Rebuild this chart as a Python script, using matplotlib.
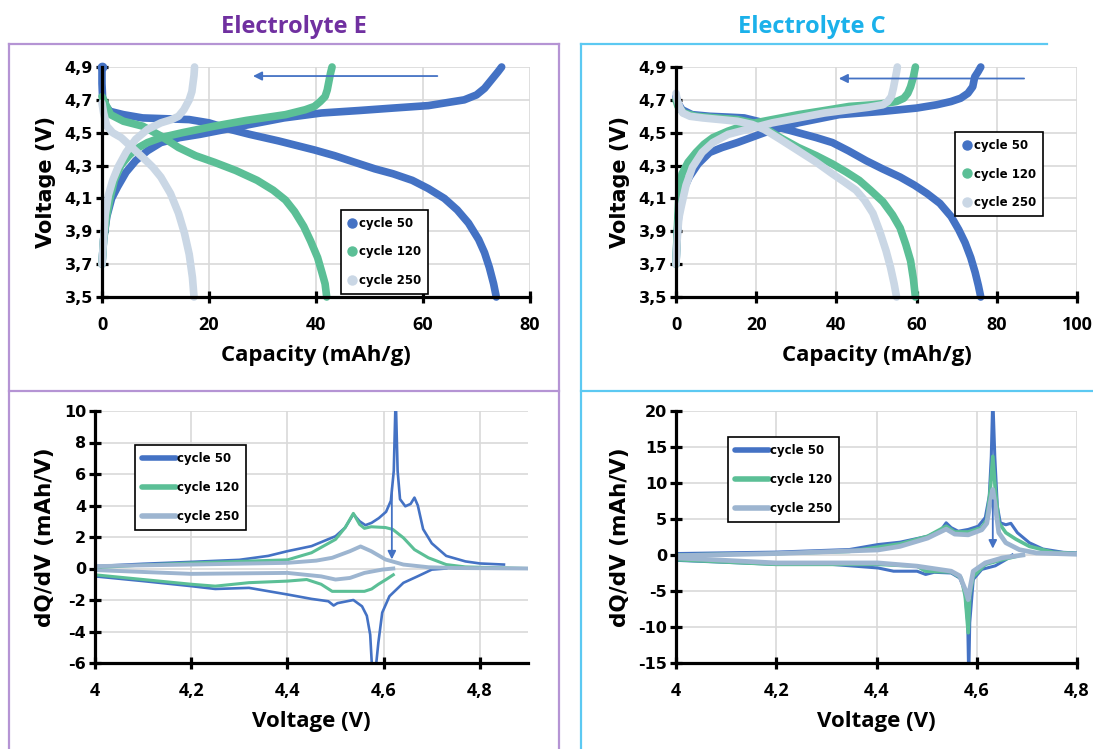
import matplotlib
matplotlib.use('Agg')
import matplotlib.pyplot as plt
from matplotlib.lines import Line2D

# ---- voltage profiles, Electrolyte E (capacity in mAh/g, voltage in V)
E50_CH_CAP = [0.0, 0.3, 0.9, 1.8, 2.9, 4.5, 6.3, 8.5, 11.0, 14.5, 18.3, 23.0, 27.6, 34.0, 41.0,
              48.0, 54.4, 61.0, 67.7, 70.0, 71.5, 73.0, 74.0, 74.7]
E50_CH_V = [3.70, 3.85, 3.99, 4.10, 4.17, 4.26, 4.33, 4.39, 4.44, 4.47, 4.49, 4.52, 4.55, 4.59, 4.62,
            4.635, 4.65, 4.665, 4.70, 4.73, 4.77, 4.83, 4.87, 4.90]
E50_DC_CAP = [0.0, 0.0, 0.1, 0.3, 1.5, 4.0, 7.6, 12.0, 16.3, 20.0, 24.0, 27.6, 33.0, 39.7, 43.5,
              47.7, 51.0, 54.4, 58.0, 61.0, 64.0, 66.4, 68.5, 70.4, 71.5, 72.4, 73.2, 73.7]
E50_DC_V = [4.90, 4.80, 4.72, 4.68, 4.63, 4.61, 4.59, 4.585, 4.58, 4.56, 4.52, 4.49, 4.45, 4.395, 4.36,
            4.315, 4.28, 4.25, 4.21, 4.16, 4.10, 4.03, 3.95, 3.85, 3.77, 3.68, 3.58, 3.50]

E120_CH_CAP = [0.0, 0.3, 0.8, 1.5, 2.3, 3.5, 5.0, 6.3, 8.5, 11.0, 15.0, 21.0, 27.0, 34.3, 38.0, 39.7,
               40.8, 41.7, 42.1, 42.4, 42.7, 43.0]
E120_CH_V = [3.70, 3.85, 3.98, 4.10, 4.21, 4.30, 4.36, 4.40, 4.44, 4.47, 4.50, 4.54, 4.575, 4.61, 4.64,
             4.66, 4.69, 4.72, 4.76, 4.81, 4.86, 4.90]
E120_DC_CAP = [0.0, 0.3, 1.6, 4.0, 7.6, 11.0, 14.3, 17.5, 21.0, 25.0, 29.0, 32.0, 34.3, 36.0, 37.7,
               39.0, 40.3, 41.1, 41.7, 42.0]
E120_DC_V = [4.72, 4.70, 4.61, 4.57, 4.54, 4.48, 4.41, 4.36, 4.32, 4.27, 4.21, 4.15, 4.09, 4.02, 3.93,
             3.84, 3.74, 3.65, 3.58, 3.50]

E250_CH_CAP = [0.0, 0.2, 0.6, 1.2, 2.0, 3.0, 4.5, 6.3, 8.5, 11.0, 13.0, 14.3, 15.3, 16.3, 16.8, 17.0,
               17.2, 17.3]
E250_CH_V = [3.70, 3.80, 4.00, 4.12, 4.21, 4.29, 4.38, 4.46, 4.52, 4.56, 4.58, 4.60, 4.64, 4.70, 4.75,
             4.80, 4.85, 4.90]
E250_DC_CAP = [0.0, 0.3, 0.9, 2.0, 3.6, 5.6, 7.6, 9.5, 11.0, 12.8, 14.3, 15.4, 16.3, 16.9, 17.2]
E250_DC_V = [4.68, 4.62, 4.54, 4.50, 4.47, 4.41, 4.35, 4.29, 4.23, 4.13, 4.01, 3.89, 3.76, 3.62, 3.50]

# ---- voltage profiles, Electrolyte C
C50_CH_CAP = [0.0, 0.3, 0.8, 1.8, 3.3, 5.5, 8.4, 11.5, 15.3, 22.0, 30.5, 40.7, 51.6, 60.0, 65.0, 68.6,
              71.0, 72.8, 74.0, 74.5, 75.3, 76.0]
C50_CH_V = [3.70, 3.88, 4.05, 4.15, 4.23, 4.31, 4.38, 4.41, 4.44, 4.50, 4.56, 4.61, 4.63, 4.65, 4.67,
            4.69, 4.71, 4.74, 4.78, 4.84, 4.87, 4.90]
C50_DC_CAP = [0.0, 0.5, 1.5, 4.0, 8.4, 13.0, 17.0, 22.0, 26.0, 30.5, 35.0, 39.0, 43.0, 47.4, 51.5,
              55.9, 59.5, 62.6, 65.8, 68.6, 70.5, 72.1, 73.5, 74.6, 75.4, 76.0]
C50_DC_V = [4.72, 4.68, 4.64, 4.61, 4.60, 4.595, 4.59, 4.56, 4.53, 4.50, 4.47, 4.44, 4.39, 4.33, 4.28,
            4.23, 4.18, 4.13, 4.07, 3.99, 3.91, 3.83, 3.74, 3.65, 3.57, 3.50]

C120_CH_CAP = [0.0, 0.3, 0.7, 1.5, 3.0, 5.0, 7.0, 9.2, 13.0, 17.7, 24.0, 30.5, 37.0, 43.2, 49.0, 52.6,
               55.0, 56.8, 57.8, 58.5, 59.2, 59.7]
C120_CH_V = [3.70, 3.90, 4.10, 4.25, 4.32, 4.38, 4.43, 4.47, 4.51, 4.55, 4.58, 4.61, 4.635, 4.66, 4.67,
             4.68, 4.69, 4.71, 4.74, 4.78, 4.84, 4.90]
C120_DC_CAP = [0.0, 0.5, 2.0, 5.0, 10.0, 15.3, 19.0, 22.0, 26.0, 30.5, 35.0, 39.0, 42.5, 45.7, 48.5,
               51.6, 54.0, 55.9, 57.3, 58.5, 59.2, 59.7]
C120_DC_V = [4.70, 4.66, 4.62, 4.60, 4.59, 4.58, 4.56, 4.53, 4.47, 4.41, 4.36, 4.31, 4.26, 4.21, 4.15,
             4.08, 4.00, 3.92, 3.82, 3.72, 3.61, 3.50]

C250_CH_CAP = [0.0, 0.3, 0.7, 1.3, 2.5, 4.1, 6.5, 9.2, 13.0, 17.7, 24.0, 30.5, 37.0, 43.2, 48.0, 51.6,
               52.8, 53.7, 54.2, 54.6, 55.0, 55.2]
C250_CH_V = [3.70, 3.85, 3.98, 4.05, 4.18, 4.29, 4.38, 4.44, 4.49, 4.52, 4.56, 4.59, 4.62, 4.64, 4.655,
             4.67, 4.69, 4.72, 4.77, 4.82, 4.87, 4.90]
C250_DC_CAP = [0.0, 0.3, 1.0, 1.7, 3.5, 6.7, 11.0, 15.3, 19.0, 22.0, 26.0, 30.5, 35.0, 39.0, 42.0,
               44.9, 47.0, 49.1, 50.8, 52.4, 53.5, 54.4, 55.0]
C250_DC_V = [4.74, 4.70, 4.65, 4.62, 4.60, 4.59, 4.58, 4.57, 4.55, 4.52, 4.46, 4.39, 4.32, 4.25, 4.20,
             4.15, 4.09, 4.01, 3.90, 3.78, 3.68, 3.58, 3.50]

# ---- dQ/dV, Electrolyte E (voltage in V, dQ/dV in mAh/V)
DE50_CH_V = [4.00, 4.10, 4.20, 4.30, 4.36, 4.40, 4.45, 4.50, 4.52, 4.537, 4.55, 4.562, 4.575, 4.59,
             4.605, 4.615, 4.621, 4.625, 4.629, 4.634, 4.645, 4.656, 4.664, 4.671, 4.682, 4.70, 4.73,
             4.77, 4.80, 4.85]
DE50_CH_Q = [0.15, 0.30, 0.42, 0.55, 0.80, 1.10, 1.42, 2.05, 2.60, 3.45, 3.00, 2.75, 2.90, 3.20,
             3.60, 4.30, 6.20, 11.0, 6.20, 4.40, 3.95, 4.10, 4.50, 4.00, 2.50, 1.60, 0.80,
             0.45, 0.32, 0.25]
DE50_DC_V = [4.00, 4.10, 4.20, 4.25, 4.32, 4.40, 4.45, 4.485, 4.496, 4.504, 4.537, 4.555, 4.565,
             4.572, 4.578, 4.583, 4.589, 4.597, 4.612, 4.641, 4.671, 4.70, 4.73]
DE50_DC_Q = [-0.50, -0.80, -1.12, -1.30, -1.23, -1.65, -1.93, -2.08, -2.35, -2.20, -2.00, -2.40, -3.00,
             -4.20, -7.50, -6.50, -4.70, -2.80, -1.76, -0.91, -0.49, -0.07, 0.0]

DE120_CH_V = [4.00, 4.10, 4.20, 4.30, 4.40, 4.45, 4.50, 4.52, 4.537, 4.55, 4.56, 4.574, 4.604, 4.619,
              4.641, 4.664, 4.693, 4.73, 4.77, 4.90]
DE120_CH_Q = [0.05, 0.22, 0.35, 0.45, 0.55, 1.00, 1.85, 2.60, 3.50, 2.80, 2.55, 2.65, 2.60, 2.48,
              1.95, 1.20, 0.68, 0.25, 0.10, 0.0]
DE120_DC_V = [4.00, 4.10, 4.20, 4.25, 4.32, 4.40, 4.44, 4.47, 4.493, 4.52, 4.56, 4.575, 4.589, 4.605, 4.62]
DE120_DC_Q = [-0.40, -0.70, -1.00, -1.12, -0.90, -0.80, -0.70, -1.00, -1.45, -1.45, -1.45, -1.30, -1.00,
              -0.70, -0.40]

DE250_CH_V = [4.00, 4.20, 4.40, 4.46, 4.493, 4.53, 4.552, 4.574, 4.604, 4.641, 4.693, 4.75, 4.90]
DE250_CH_Q = [0.15, 0.25, 0.36, 0.50, 0.68, 1.10, 1.40, 1.10, 0.57, 0.25, 0.08, 0.03, 0.0]
DE250_DC_V = [4.00, 4.20, 4.40, 4.47, 4.50, 4.53, 4.56, 4.597, 4.62]
DE250_DC_Q = [-0.10, -0.34, -0.28, -0.50, -0.70, -0.60, -0.28, -0.07, 0.0]

# ---- dQ/dV, Electrolyte C
DC50_CH_V = [4.00, 4.20, 4.346, 4.403, 4.447, 4.502, 4.529, 4.539, 4.549, 4.563, 4.583, 4.603, 4.617,
             4.625, 4.629, 4.632, 4.636, 4.641, 4.647, 4.658, 4.668, 4.681, 4.705, 4.732, 4.773, 4.80]
DC50_CH_Q = [0.20, 0.40, 0.76, 1.45, 1.78, 2.60, 3.50, 4.47, 3.80, 3.30, 3.55, 4.00, 5.20,
             8.20, 13.7, 22.0, 13.7, 6.80, 4.47, 4.20, 4.40, 3.10, 1.70, 0.83, 0.37, 0.28]
DC50_DC_V = [4.00, 4.20, 4.31, 4.403, 4.434, 4.481, 4.498, 4.515, 4.549, 4.566, 4.576, 4.582, 4.584,
             4.586, 4.593, 4.61, 4.637, 4.658, 4.671]
DC50_DC_Q = [-0.74, -1.30, -1.30, -1.80, -2.25, -2.25, -2.70, -2.40, -2.50, -3.20, -4.80, -9.40, -17.0,
             -9.40, -3.40, -2.00, -1.50, -0.65, 0.0]

DC120_CH_V = [4.00, 4.20, 4.346, 4.447, 4.502, 4.539, 4.556, 4.583, 4.61, 4.62, 4.627, 4.632, 4.637,
              4.644, 4.658, 4.678, 4.705, 4.753, 4.80]
DC120_CH_Q = [0.0, 0.20, 0.50, 1.55, 2.60, 4.00, 3.20, 3.20, 3.80, 4.90, 9.10, 13.7, 9.10,
              4.50, 3.10, 2.20, 1.20, 0.37, 0.20]
DC120_DC_V = [4.00, 4.20, 4.403, 4.481, 4.498, 4.549, 4.569, 4.577, 4.583, 4.586, 4.593, 4.617, 4.651, 4.678]
DC120_DC_Q = [-0.65, -1.30, -1.30, -1.55, -2.25, -2.35, -3.20, -5.70, -10.8, -5.70, -3.00, -1.30, -0.65, -0.20]

DC250_CH_V = [4.00, 4.20, 4.403, 4.447, 4.502, 4.539, 4.556, 4.583, 4.61, 4.62, 4.627, 4.632, 4.637,
              4.644, 4.658, 4.685, 4.719, 4.80]
DC250_CH_Q = [-0.10, 0.20, 0.70, 1.20, 2.35, 3.60, 2.90, 2.80, 3.50, 4.40, 7.30, 9.10, 6.80,
              3.10, 1.70, 0.74, 0.28, 0.10]
DC250_DC_V = [4.00, 4.20, 4.403, 4.481, 4.549, 4.566, 4.577, 4.583, 4.586, 4.593, 4.617, 4.651, 4.692]
DC250_DC_Q = [-0.40, -1.10, -1.10, -1.55, -2.25, -2.90, -4.80, -6.20, -4.80, -2.25, -1.10, -0.40, 0.0]

CYCLES = ['cycle 50', 'cycle 120', 'cycle 250']

# ticks
CAP_TICKS_E = [0, 20, 40, 60, 80]
CAP_TICKS_C = [0, 20, 40, 60, 80, 100]
V_TICKS = [3.5, 3.7, 3.9, 4.1, 4.3, 4.5, 4.7, 4.9]
V_LABELS = ['3,5', '3,7', '3,9', '4,1', '4,3', '4,5', '4,7', '4,9']
DV_TICKS = [4.0, 4.2, 4.4, 4.6, 4.8]
DV_LABELS = ['4', '4,2', '4,4', '4,6', '4,8']
DQ_TICKS_E = [-6, -4, -2, 0, 2, 4, 6, 8, 10]
DQ_TICKS_C = [-15, -10, -5, 0, 5, 10, 15, 20]

BLUE = '#4472C4'
GREEN = '#5BBF96'
PALE = '#CAD7E5'
GREYBLUE = '#9DB5D0'
PURPLE = '#7030A0'
PURPLE_LINE = '#B594D4'
CYAN = '#1BB1EA'
CYAN_LINE = '#5CC9F2'
GRID = '#D9D9D9'

HEAVY = 'DejaVu Sans'
WIDE = 'Open Sans'

W, H = 1093, 749
fig = plt.figure(figsize=(W / 100, H / 100), dpi=100)


def box(x0, x1, y0, y1):
    # figure-fraction rectangle from pixel edges
    return [x0 / W, 1 - y1 / H, (x1 - x0) / W, (y1 - y0) / H]


def style_axes(ax, xticks, xlabels, yticks, ylabels, xlabel, ylabel, ysize):
    for side in ('top', 'right'):
        ax.spines[side].set_visible(False)
    for side in ('left', 'bottom'):
        ax.spines[side].set_linewidth(2.3)
        ax.spines[side].set_color('black')
        ax.spines[side].set_zorder(5)
    ax.set_xticks(xticks, labels=xlabels, fontsize=13, fontweight='bold', fontfamily=WIDE)
    ax.set_yticks(yticks, labels=ylabels, fontsize=11.5, fontweight='bold', fontfamily=HEAVY)
    ax.tick_params(axis='both', direction='inout', length=9, width=2.3, color='black')
    ax.tick_params(axis='x', pad=9)
    ax.tick_params(axis='y', pad=2)
    ax.grid(True, color=GRID, lw=1.2)
    ax.set_axisbelow(True)
    ax.set_xlabel(xlabel, fontsize=16, fontweight='bold', fontfamily=WIDE, labelpad=8)
    ax.set_ylabel(ylabel, fontsize=ysize, fontweight='bold', fontfamily=HEAVY, labelpad=6)


def dot_legend(ax, anchor):
    handles = [Line2D([], [], marker='o', ls='none', color=c, markersize=6.5)
               for c in (BLUE, GREEN, PALE)]
    leg = ax.legend(handles, CYCLES, loc='upper left', bbox_to_anchor=anchor, borderaxespad=0,
                    fancybox=False, edgecolor='black', framealpha=1, handlelength=0.7,
                    handletextpad=0.25, labelspacing=1.3, borderpad=0.6,
                    prop={'family': HEAVY, 'weight': 'bold', 'size': 8.5})
    leg.get_frame().set_linewidth(1.2)


def line_legend(ax, anchor, colors):
    handles = [Line2D([], [], color=c, lw=4, solid_capstyle='round') for c in colors]
    leg = ax.legend(handles, CYCLES, loc='upper left', bbox_to_anchor=anchor, borderaxespad=0,
                    fancybox=False, edgecolor='black', framealpha=1, handlelength=2.9,
                    handletextpad=0.05, labelspacing=1.35, borderpad=0.6,
                    prop={'family': HEAVY, 'weight': 'bold', 'size': 8.5})
    leg.get_frame().set_linewidth(1.2)


# ---- top left: voltage profiles, Electrolyte E
ax1 = fig.add_axes(box(102, 530, 67, 297))
for (cc, cv, dc, dv), col in zip(
        [(E50_CH_CAP, E50_CH_V, E50_DC_CAP, E50_DC_V),
         (E120_CH_CAP, E120_CH_V, E120_DC_CAP, E120_DC_V),
         (E250_CH_CAP, E250_CH_V, E250_DC_CAP, E250_DC_V)],
        [BLUE, GREEN, PALE]):
    ax1.plot(cc, cv, color=col, lw=5.5, solid_capstyle='round', solid_joinstyle='round', clip_on=False)
    ax1.plot(dc, dv, color=col, lw=5.5, solid_capstyle='round', solid_joinstyle='round', clip_on=False)
ax1.plot([E50_DC_CAP[0]], [E50_DC_V[0]], 'o', color=BLUE, markersize=6, clip_on=False)
ax1.set_xlim(0, 80)
ax1.set_ylim(3.5, 4.9)
style_axes(ax1, CAP_TICKS_E, [str(t) for t in CAP_TICKS_E], V_TICKS, V_LABELS,
           'Capacity (mAh/g)', 'Voltage (V)', 15)
ax1.annotate('', xy=(27.7, 4.845), xytext=(63.2, 4.845),
             arrowprops=dict(arrowstyle='-|>', color=BLUE, lw=1.3, mutation_scale=13))
dot_legend(ax1, (0.558, 0.378))

# ---- top right: voltage profiles, Electrolyte C
ax2 = fig.add_axes(box(676, 1077, 67, 297))
for (cc, cv, dc, dv), col in zip(
        [(C50_CH_CAP, C50_CH_V, C50_DC_CAP, C50_DC_V),
         (C120_CH_CAP, C120_CH_V, C120_DC_CAP, C120_DC_V),
         (C250_CH_CAP, C250_CH_V, C250_DC_CAP, C250_DC_V)],
        [BLUE, GREEN, PALE]):
    ax2.plot(cc, cv, color=col, lw=5.5, solid_capstyle='round', solid_joinstyle='round', clip_on=False)
    ax2.plot(dc, dv, color=col, lw=5.5, solid_capstyle='round', solid_joinstyle='round', clip_on=False)
ax2.set_xlim(0, 100)
ax2.set_ylim(3.5, 4.9)
style_axes(ax2, CAP_TICKS_C, [str(t) for t in CAP_TICKS_C], V_TICKS, V_LABELS,
           'Capacity (mAh/g)', 'Voltage (V)', 15)
ax2.annotate('', xy=(39.9, 4.83), xytext=(87.5, 4.83),
             arrowprops=dict(arrowstyle='-|>', color=BLUE, lw=1.3, mutation_scale=13))
dot_legend(ax2, (0.697, 0.717))

# ---- bottom left: dQ/dV, Electrolyte E
ax3 = fig.add_axes(box(95, 528, 411, 663))
for (v1, q1, v2, q2), col, lw in zip(
        [(DE50_CH_V, DE50_CH_Q, DE50_DC_V, DE50_DC_Q),
         (DE120_CH_V, DE120_CH_Q, DE120_DC_V, DE120_DC_Q),
         (DE250_CH_V, DE250_CH_Q, DE250_DC_V, DE250_DC_Q)],
        [BLUE, GREEN, GREYBLUE], [1.9, 2.2, 2.8]):
    ax3.plot(v1, q1, color=col, lw=lw, solid_joinstyle='round')
    ax3.plot(v2, q2, color=col, lw=lw, solid_joinstyle='round')
ax3.set_xlim(4.0, 4.9)
ax3.set_ylim(-6, 10)
style_axes(ax3, DV_TICKS, DV_LABELS, DQ_TICKS_E, [str(t) for t in DQ_TICKS_E],
           'Voltage (V)', 'dQ/dV (mAh/V)', 15.5)
ax3.annotate('', xy=(4.617, 0.4), xytext=(4.617, 5.3),
             arrowprops=dict(arrowstyle='-|>', color=BLUE, lw=1.3, mutation_scale=12))
line_legend(ax3, (0.092, 0.865), [BLUE, GREEN, GREYBLUE])

# ---- bottom right: dQ/dV, Electrolyte C
ax4 = fig.add_axes(box(676, 1077, 411, 663))
for (v1, q1, v2, q2), col, lw in zip(
        [(DC50_CH_V, DC50_CH_Q, DC50_DC_V, DC50_DC_Q),
         (DC120_CH_V, DC120_CH_Q, DC120_DC_V, DC120_DC_Q),
         (DC250_CH_V, DC250_CH_Q, DC250_DC_V, DC250_DC_Q)],
        [BLUE, GREEN, GREYBLUE], [2.2, 2.6, 3.4]):
    ax4.plot(v1, q1, color=col, lw=lw, solid_joinstyle='round')
    ax4.plot(v2, q2, color=col, lw=lw, solid_joinstyle='round')
ax4.set_xlim(4.0, 4.8)
ax4.set_ylim(-15, 20)
style_axes(ax4, DV_TICKS, DV_LABELS, DQ_TICKS_C, [str(t) for t in DQ_TICKS_C],
           'Voltage (V)', 'dQ/dV (mAh/V)', 15.5)
ax4.annotate('', xy=(4.632, 0.5), xytext=(4.632, 8.0),
             arrowprops=dict(arrowstyle='-|>', color=BLUE, lw=1.3, mutation_scale=12))
line_legend(ax4, (0.129, 0.898), [BLUE, GREEN, GREYBLUE])


# ---- panel frames and headings
def frame_line(xs, ys, color):
    fig.add_artist(Line2D([x / W for x in xs], [1 - y / H for y in ys], color=color, lw=1.6))


frame_line([9, 9], [44, H], PURPLE_LINE)
frame_line([9, 559], [44, 44], PURPLE_LINE)
frame_line([559, 559], [44, H], PURPLE_LINE)
frame_line([9, 559], [391, 391], PURPLE_LINE)
frame_line([581, 581], [44, H], CYAN_LINE)
frame_line([581, 1047], [44, 44], CYAN_LINE)
frame_line([581, W], [391, 391], CYAN_LINE)

fig.text(294 / W, 1 - 27 / H, 'Electrolyte E', color=PURPLE, fontsize=17, fontweight='bold',
         fontfamily=WIDE, ha='center', va='center')
fig.text(812 / W, 1 - 27 / H, 'Electrolyte C', color=CYAN, fontsize=17, fontweight='bold',
         fontfamily=WIDE, ha='center', va='center')

fig.savefig('out.png', dpi=100)
